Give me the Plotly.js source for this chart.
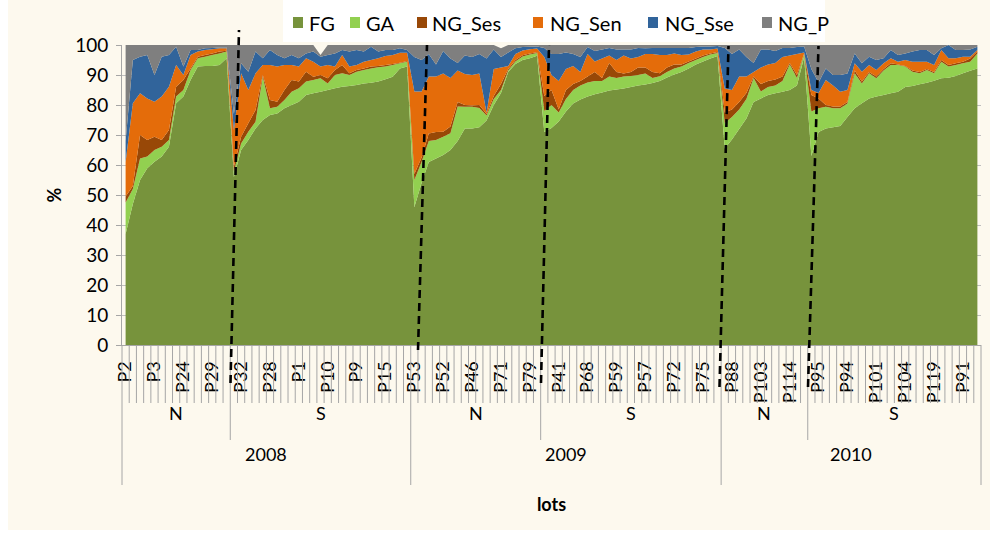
<!DOCTYPE html>
<html><head><meta charset="utf-8">
<script src="https://cdn.plot.ly/plotly-3.0.1.min.js"></script>
<style>html,body{margin:0;padding:0;background:#fff}</style>
</head><body><div id="chart" style="width:995px;height:536px"></div>
<script>
// ---- data (percent of lots per category) ----
const tickLabels = ['P2','P3','P24','P29','P32','P28','P1','P10','P9','P15',
  'P53','P52','P46','P71','P79','P41','P68','P59','P57','P72','P75',
  'P88','P103','P114','P95','P94','P101','P104','P119','P91'];
const zoneLabels = ['N','S','N','S','N','S'];
const zoneSizes  = [15,25,18,25,12,24];
const yearLabels = ['2008','2009','2010'];
const yearZones  = [2,2,2];

const FG = [37,47,55,58.9,61.1,62.8,66.1,80.6,82.8,88.3,92.8,93,93,93.3,95.6,
 56,65,68.3,72.2,75,76.7,77.2,78.9,80,81.1,83.3,83.9,84.4,85,85.6,86.1,86.3,86.7,87.2,87.4,87.8,88.6,89.4,92.2,92.8,
 46,54,61,62.2,63.3,65,68,72.2,72.2,72.6,74.8,80,84,91,93.7,95,95.6,96.4,
 71,72.3,74.5,77.8,80.5,81.8,82.8,83.6,84.2,84.8,85.2,85.5,86,86.5,86.8,87.3,88,89.2,90.2,91,92.2,93.5,94.5,95.5,96.3,
 65.5,68.5,72,75.5,81,82.2,83.3,83.9,84.4,85,86.5,96,
 63,71,72.2,72.6,73,76,78.9,80.6,82.2,82.8,83.3,83.9,84.4,86,86.3,86.9,87.4,88.1,88.9,89.1,89.7,90.6,91.4,92.2];
const GA = [10.5,5,7.2,3.9,3.9,3.3,2.2,2.2,2.2,3.4,2.8,3.1,3.7,3.9,2.2,
 1.8,2.2,2.8,2.2,14.4,2.2,2.2,2.8,4.4,4.5,4.5,4.4,4.5,2.2,4.4,4.5,3.7,4.4,4.5,4.8,4.8,4.2,3.9,1.7,1.6,
 9,7,7,6.1,6.1,5.6,11.5,7.2,7.2,6.4,1.7,2,1,0.5,0.8,1.2,1.2,0.9,
 7,7.7,3,4.2,4.5,4.7,4.7,4.4,3.8,4.7,3.8,4,3.7,3.5,3.7,1.7,1.6,1.8,2,1.8,1.8,1.5,1.5,1.3,1,
 8.5,7.5,6.5,6.5,8,2.3,2.7,2.6,3.6,8.5,2.5,1,
 14.8,7.9,7.2,6.3,5.9,4.5,11.7,6.6,8.4,6.1,8.2,9.4,8.9,6.8,4.8,3.7,4.3,2.5,5.5,3.7,3.6,3.3,3,5];
const NG_Ses = [2,1,7.8,5.5,4.4,2.2,3.4,3.3,3.3,0.5,0.5,0.6,0.5,0.6,0.3,
 1.6,2.2,2.8,3.9,0.6,2.8,1.7,3.3,3.9,2.2,3.3,1.1,1.1,1.7,1.7,2.7,0.6,0.6,0.5,0.6,0.4,0.5,0.4,0.2,0.3,
 2,1.5,2.5,2.7,1.7,2.2,1.5,0.6,0.4,1,0.5,1,2,0.5,0.5,0.4,0.4,0.3,
 5,5,1,3,2,1.5,2,3,1,4.5,2,1,1.3,2.5,2,2,1,1.5,1.3,0.7,0.5,0.5,0.5,0.4,0.4,
 3.5,2.5,2.5,2,0.5,2.5,2,2,1.5,0.5,1,0.2,
 5.5,3.3,0.6,0.6,0.6,0.5,0.9,0.6,0.4,0.6,0.5,0.6,0.2,0.2,0.4,0.4,0.3,0.4,0.6,0.5,0.6,0.5,1.1,0.6];
const NG_Sen = [11.5,27.6,13.9,13.9,11.7,14.5,14.4,7.2,1.7,4.5,1.7,1.6,1.4,1.1,0.8,
 12.3,21.2,11.1,12.3,3.3,11.6,11.7,8.3,5,5,4.5,5,2.8,4.4,1.1,3.4,2.2,1.6,2.2,2.2,2.6,3,3,3.3,2.7,
 27.5,22,19,18.5,19.4,16.2,10.5,10.3,10.2,10.5,0.5,9,5.5,1,2,1.6,1.4,1.2,
 13,5,9.5,7,6,3,7.5,3.5,6.5,2.5,4,6,4.5,3.5,4.5,6,6.1,4.2,3.7,3.2,2.3,2.3,2,1.3,1.1,
 8,6.5,8.5,5.5,1.5,5.5,5.5,5.5,6.5,2.5,7,0.3,
 1.7,1.8,8.3,7,4.9,4,2.4,3.3,2.3,2.2,1.9,1.7,0.9,2,2.9,3.4,2.4,2.3,3.3,2.3,1.7,1.7,0.6,0.5];
const NG_Sse = [7,14.4,12.2,14.5,8.9,13.3,10.6,6.1,2.8,1.6,0.5,0.6,0.4,0.3,0.3,
 5.3,3.3,6.1,7.2,2.3,5,3.9,2.3,3.4,2.8,1.6,3.4,3.3,3.4,4.4,1.6,5,5,3.4,4.4,2.2,2,1.6,1.5,0.9,
 11.5,10.5,7.5,4,7.5,6.5,2.5,6.2,6,6.5,18,6.5,3.5,4.5,1.9,1.1,0.8,0.7,
 3,7,9,5.5,4,5,2.3,3.5,3,2.5,3.5,2,3,3,1.9,2,2.3,2.3,1.8,2.3,2.2,1.5,1,1,0.9,
 13.5,12,9,6.5,3,6,5,4,3,2.5,2.3,2,
 7,3.5,3.9,3.5,5.6,5.5,3.3,2.8,2.8,3.3,1.7,2.7,2.3,2.2,3.4,3.9,3.9,3.4,0.6,4.4,2.7,2.2,2.4,1.1];
const NG_P = [32,5,3.9,3.3,10,3.9,3.3,0.6,7.2,1.7,1.7,1.1,1,0.8,0.8,
 23,6.1,8.9,2.2,4.4,1.7,3.3,4.4,3.3,4.4,2.8,2.2,0.6,3.3,2.8,1.7,2.2,1.7,2.2,0.6,2.2,1.7,1.7,1.1,1.7,
 4,5,3,6.5,2,4.5,6,3.5,4,3,4.5,1.5,2.9,2.5,1.1,0.7,0.6,0.5,
 1,3,3,2.5,3,4,0.7,2,1.5,1,1.5,1.5,1.5,1,1.1,1,1,1,1,1,1,0.7,0.5,0.5,0.3,
 1,3,1.5,4,6,1.5,1.5,2,1,1,0.7,0.5,
 8,12.5,7.8,10,10,9.5,2.8,6.1,3.9,5,4.4,1.7,3.3,2.8,2.2,1.7,1.7,3.3,1.1,0,1.7,1.7,1.5,0.6];

const seriesNames  = ['FG','GA','NG_Ses','NG_Sen','NG_Sse','NG_P'];
const seriesValues = [FG, GA, NG_Ses, NG_Sen, NG_Sse, NG_P];
const seriesColors = ['#77933C','#92D050','#984807','#E46C0A','#31649B','#7F7F7F'];

// ---- geometry ----
const W = 995, H = 536, ML = 122, MR = 14, MT = 45, MB = 191;
const PW = W - ML - MR, PH = H - MT - MB;
const px2x = px => (px - ML) / PW;          // paper x
const px2y = py => (H - MB - py) / PH;      // paper y
const FONT = 'Lato, "Open Sans", sans-serif';
const nCat = FG.length;
const lotPos = FG.map((v, i) => i + 1);

const traces = seriesValues.map((vals, k) => ({
  type: 'scatter', x: lotPos, y: vals, name: seriesNames[k],
  stackgroup: 'one', mode: 'none', fillcolor: seriesColors[k],
  line: {width: 0}, showlegend: false, hoverinfo: 'skip'
}));

const shapes = [];
const annotations = [];

// chart-area background (cream) inside a thin white frame
shapes.push({type: 'rect', xref: 'paper', yref: 'paper', x0: px2x(8), x1: px2x(990),
  y0: px2y(530), y1: px2y(0), fillcolor: '#FDF9EE', line: {width: 0}, layer: 'below'});

// category separators below the axis
const zoneEnds = []; let acc = 0;
zoneSizes.forEach(s => { acc += s; zoneEnds.push(acc); });
const yearEnds = []; let zi = 0;
yearZones.forEach(n => { zi += n; yearEnds.push(zoneEnds[zi - 1]); });
for (let j = 0; j <= nCat; j++) {
  let bottom = 403;
  if (zoneEnds.includes(j)) bottom = 440;
  if (j === 0 || yearEnds.includes(j)) bottom = 485;
  shapes.push({type: 'line', xref: 'x domain', yref: 'paper',
    x0: j / nCat, x1: j / nCat, y0: 0, y1: px2y(bottom),
    line: {color: '#A6A6A6', width: 1}, layer: 'above'});
}
// zone labels and year labels
let start = 0;
zoneSizes.forEach((s, k) => {
  annotations.push({xref: 'x', yref: 'paper', x: start + (s + 1) / 2, y: px2y(426),
    text: zoneLabels[k], showarrow: false, font: {family: FONT, size: 18, color: '#000'}});
  start += s;
});
let ys = 0; zi = 0;
yearLabels.forEach((lab, k) => {
  let n = 0; for (let q = 0; q < yearZones[k]; q++) n += zoneSizes[zi + q];
  zi += yearZones[k];
  annotations.push({xref: 'x', yref: 'paper', x: ys + (n + 1) / 2, y: px2y(467),
    text: lab, showarrow: false, font: {family: FONT, size: 18, color: '#000'}});
  ys += n;
});

// dashed separators (slanted)
const dashLines = [[230.5, 383, 239, 30], [418, 350, 427, 45], [541, 383, 549, 45],
                   [719.5, 387, 728.5, 46], [808, 387, 818.5, 46]];
dashLines.forEach(d => shapes.push({type: 'line', xref: 'paper', yref: 'paper',
  x0: px2x(d[0]), y0: px2y(d[1]), x1: px2x(d[2]), y1: px2y(d[3]),
  line: {color: '#000', width: 2.6, dash: '8px,5px'}, layer: 'above'}));

// legend box
shapes.push({type: 'rect', xref: 'paper', yref: 'paper', x0: px2x(283), x1: px2x(825),
  y0: px2y(42), y1: px2y(0), fillcolor: '#FFFFFF', line: {width: 0}, layer: 'above'});
const legSq = [293, 350, 417, 533, 648, 762];
const legTx = [307, 364, 430, 548, 663, 776];
seriesNames.forEach((nm, k) => {
  shapes.push({type: 'rect', xref: 'paper', yref: 'paper', x0: px2x(legSq[k]), x1: px2x(legSq[k] + 10),
    y0: px2y(28), y1: px2y(17), fillcolor: seriesColors[k], line: {width: 0}, layer: 'above'});
  annotations.push({xref: 'paper', yref: 'paper', x: px2x(legTx[k]), y: px2y(22.5),
    xanchor: 'left', yanchor: 'middle', text: nm, showarrow: false,
    font: {family: FONT, size: 20, color: '#000'}});
});

const layout = {
  width: W, height: H,
  margin: {l: ML, r: MR, t: MT, b: MB, pad: 0},
  paper_bgcolor: '#FFFFFF', plot_bgcolor: '#FFFFFF',
  showlegend: false,
  font: {family: FONT, color: '#000'},
  xaxis: {range: [0.5, nCat + 0.5], tickmode: 'array',
    tickvals: tickLabels.map((t, k) => 1 + 4 * k), ticktext: tickLabels,
    tickangle: -90, ticks: '', ticklabelstandoff: 8,
    tickfont: {family: FONT, size: 18, color: '#000'},
    showgrid: false, zeroline: false, showline: true, linecolor: '#A6A6A6', linewidth: 1,
    title: {text: '<b>lots</b>', font: {family: FONT, size: 18, color: '#000'}, standoff: 96},
    fixedrange: true},
  yaxis: {range: [0, 100], dtick: 10, tick0: 0, ticks: 'outside', ticklen: 5,
    tickcolor: '#A6A6A6', showline: true, linecolor: '#A6A6A6', linewidth: 1,
    showgrid: true, gridcolor: '#BFBFBF', zeroline: false,
    tickfont: {family: FONT, size: 19, color: '#000'}, ticklabelstandoff: 4,
    title: {text: '<b>%</b>', font: {family: FONT, size: 18, color: '#000'}, standoff: 8},
    fixedrange: true},
  shapes: shapes, annotations: annotations
};
Plotly.newPlot('chart', traces, layout, {displayModeBar: false, staticPlot: true});
</script>
</body></html>
